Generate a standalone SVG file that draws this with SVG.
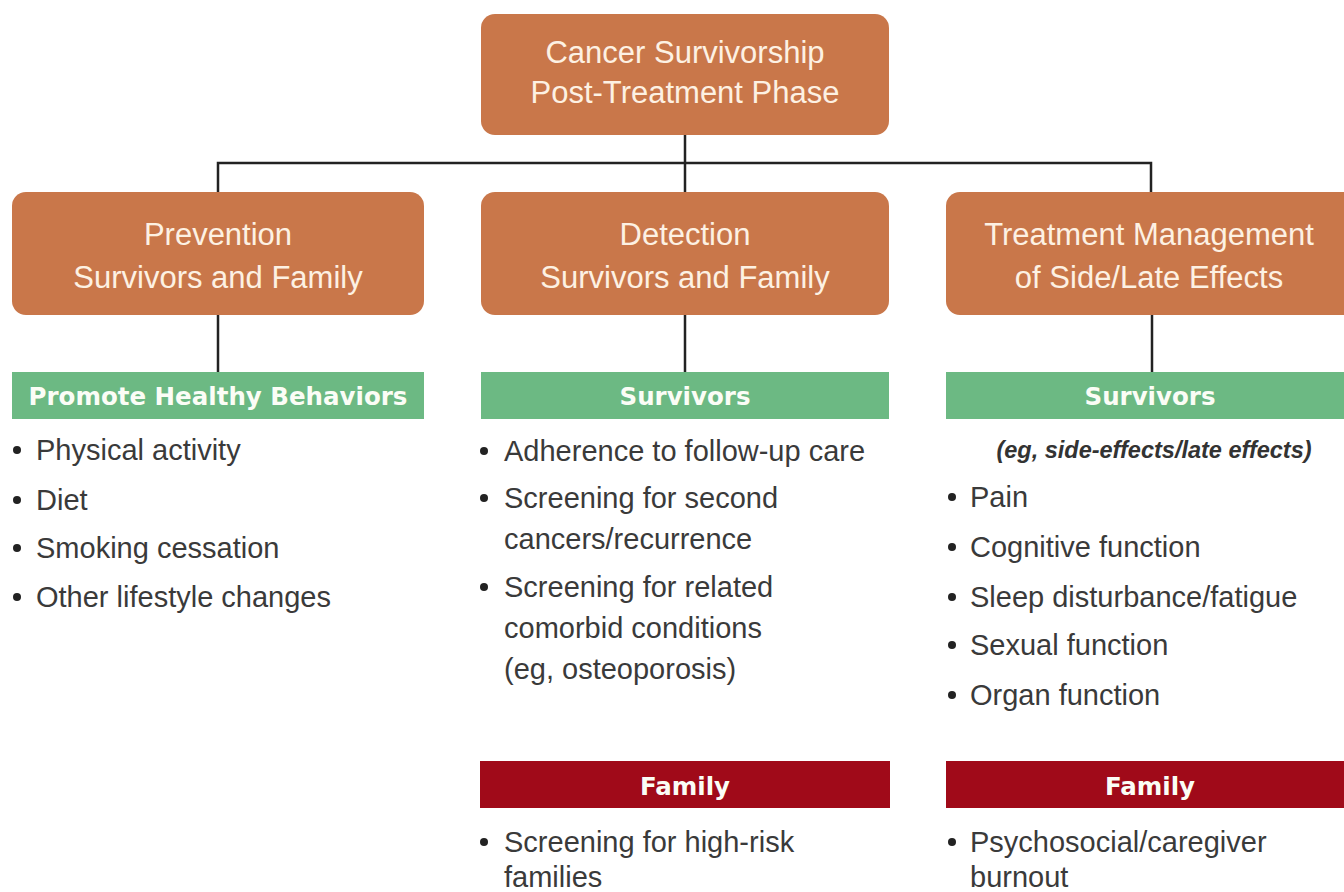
<svg xmlns="http://www.w3.org/2000/svg" width="1344" height="892" viewBox="0 0 1344 892">
<style>
.box{fill:#c9774a}
.bt{font-family:"Liberation Sans",Arial,sans-serif;font-size:31px;fill:#fdf1e3;text-anchor:middle}
.green{fill:#6cb983}
.red{fill:#a00a19}
.bar{font-family:"DejaVu Sans",sans-serif;font-weight:bold;font-size:24.5px;fill:#fbfdf6;text-anchor:middle}
.li{font-family:"Liberation Sans",Arial,sans-serif;font-size:29px;fill:#3a3a3a}
.it{font-family:"Liberation Sans",Arial,sans-serif;font-size:23.5px;font-style:italic;font-weight:bold;fill:#333;text-anchor:middle}
.dot{fill:#222}
.con{stroke:#222;stroke-width:2.5;fill:none}
</style>
<rect width="1344" height="892" fill="#fff"/>
<g id="connectors">
<path class="con" d="M685 135V192M218 192V163H1151V192M218 315V372M685 315V372M1152 315V372"/>
</g>
<g id="root">
<rect class="box" x="481" y="14" width="408" height="121" rx="14"/>
<text class="bt" x="685" y="63">Cancer Survivorship</text>
<text class="bt" x="685" y="103">Post-Treatment Phase</text>
</g>
<g id="prevention">
<rect class="box" x="12" y="192" width="412" height="123" rx="14"/>
<text class="bt" x="218" y="245">Prevention</text>
<text class="bt" x="218" y="288">Survivors and Family</text>
</g>
<g id="detection">
<rect class="box" x="481" y="192" width="408" height="123" rx="14"/>
<text class="bt" x="685" y="245">Detection</text>
<text class="bt" x="685" y="288">Survivors and Family</text>
</g>
<g id="treatment">
<rect class="box" x="946" y="192" width="414" height="123" rx="14"/>
<text class="bt" x="1149" y="245">Treatment Management</text>
<text class="bt" x="1149" y="288">of Side/Late Effects</text>
</g>
<g id="prevention-survivors">
<rect class="green" x="12" y="372" width="412" height="47"/>
<text class="bar" x="218" y="405">Promote Healthy Behaviors</text>
<circle class="dot" cx="17" cy="450" r="4"/><text class="li" x="36" y="460">Physical activity</text>
<circle class="dot" cx="17" cy="500" r="4"/><text class="li" x="36" y="510">Diet</text>
<circle class="dot" cx="17" cy="548" r="4"/><text class="li" x="36" y="558">Smoking cessation</text>
<circle class="dot" cx="17" cy="597" r="4"/><text class="li" x="36" y="607">Other lifestyle changes</text>
</g>
<g id="detection-survivors">
<rect class="green" x="481" y="372" width="408" height="47"/>
<text class="bar" x="685" y="405">Survivors</text>
<circle class="dot" cx="484" cy="451" r="4"/><text class="li" x="504" y="461">Adherence to follow-up care</text>
<circle class="dot" cx="484" cy="498" r="4"/><text class="li" x="504" y="508">Screening for second</text>
<text class="li" x="504" y="549">cancers/recurrence</text>
<circle class="dot" cx="484" cy="587" r="4"/><text class="li" x="504" y="597">Screening for related</text>
<text class="li" x="504" y="638">comorbid conditions</text>
<text class="li" x="504" y="679">(eg, osteoporosis)</text>
</g>
<g id="treatment-survivors">
<rect class="green" x="946" y="372" width="398" height="47"/>
<text class="bar" x="1150" y="405">Survivors</text>
<text class="it" x="1154" y="458">(eg, side-effects/late effects)</text>
<circle class="dot" cx="952" cy="497" r="4"/><text class="li" x="970" y="507">Pain</text>
<circle class="dot" cx="952" cy="547" r="4"/><text class="li" x="970" y="557">Cognitive function</text>
<circle class="dot" cx="952" cy="597" r="4"/><text class="li" x="970" y="607">Sleep disturbance/fatigue</text>
<circle class="dot" cx="952" cy="645" r="4"/><text class="li" x="970" y="655">Sexual function</text>
<circle class="dot" cx="952" cy="695" r="4"/><text class="li" x="970" y="705">Organ function</text>
</g>
<g id="detection-family">
<rect class="red" x="480" y="761" width="410" height="47"/>
<text class="bar" x="685" y="795">Family</text>
<circle class="dot" cx="484" cy="842" r="4"/><text class="li" x="504" y="852">Screening for high-risk</text>
<text class="li" x="504" y="887">families</text>
</g>
<g id="treatment-family">
<rect class="red" x="946" y="761" width="398" height="47"/>
<text class="bar" x="1150" y="795">Family</text>
<circle class="dot" cx="952" cy="842" r="4"/><text class="li" x="970" y="852">Psychosocial/caregiver</text>
<text class="li" x="970" y="887">burnout</text>
</g>
</svg>
